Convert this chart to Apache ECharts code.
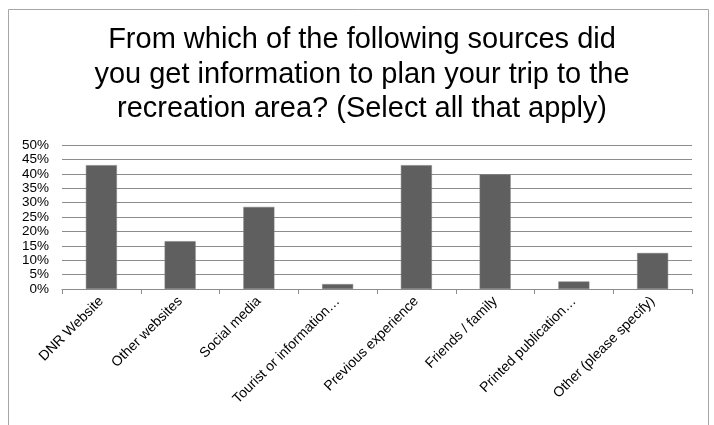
<!DOCTYPE html>
<html>
<head>
<meta charset="utf-8">
<script src="https://cdn.jsdelivr.net/npm/echarts@6/dist/echarts.min.js"></script>
<style>
  html, body { margin: 0; padding: 0; background: #fff; }
  #chart { width: 714px; height: 425px; }
</style>
</head>
<body>
<div id="chart"></div>
<script>
// survey answers
var categories = ['DNR Website', 'Other websites', 'Social media', 'Tourist or information…',
  'Previous experience', 'Friends / family', 'Printed publication…', 'Other (please specify)'];
var shares = [43.0, 16.6, 28.5, 1.7, 43.0, 39.8, 2.6, 12.5];
var titleLines = ['From which of the following sources did',
  'you get information to plan your trip to the',
  'recreation area? (Select all that apply)'];

var chart = echarts.init(document.getElementById('chart'));

var option = {
  animation: false,
  backgroundColor: '#fff',
  title: {
    text: titleLines.join('\n'),
    left: 357,
    top: 18,
    textAlign: 'center',
    textStyle: {
      fontFamily: 'Liberation Sans',
      fontSize: 29,
      fontWeight: 'normal',
      color: '#000',
      lineHeight: 34.5
    }
  },
  // outer frame of the chart area
  graphic: [{
    type: 'rect',
    shape: { x: 8.5, y: 9.5, width: 700, height: 430 },
    style: { fill: null, stroke: '#a6a6a6', lineWidth: 1 },
    silent: true
  }],
  grid: {
    left: 62,
    right: 22,
    top: 145,
    bottom: 136
  },
  xAxis: {
    type: 'category',
    data: categories,
    axisLine: { show: true, lineStyle: { color: '#8c8c8c', width: 1 } },
    axisTick: { show: true, alignWithLabel: false, length: 5, lineStyle: { color: '#8c8c8c' } },
    axisLabel: {
      rotate: 45,
      interval: 0,
      margin: 10,
      fontFamily: 'Liberation Sans',
      fontSize: 14,
      color: '#000'
    }
  },
  yAxis: {
    type: 'value',
    min: 0,
    max: 50,
    interval: 5,
    axisLine: { show: false },
    axisTick: { show: false },
    axisLabel: {
      formatter: '{value}%',
      margin: 13,
      fontFamily: 'Liberation Sans',
      fontSize: 13.5,
      color: '#000'
    },
    splitLine: { lineStyle: { color: '#8c8c8c', width: 1 } }
  },
  series: [{
    type: 'bar',
    data: shares,
    barWidth: 31,
    itemStyle: { color: '#5f5f5f', borderColor: '#7a7a7a', borderWidth: 0.5 }
  }]
};

chart.setOption(option);
</script>
</body>
</html>
